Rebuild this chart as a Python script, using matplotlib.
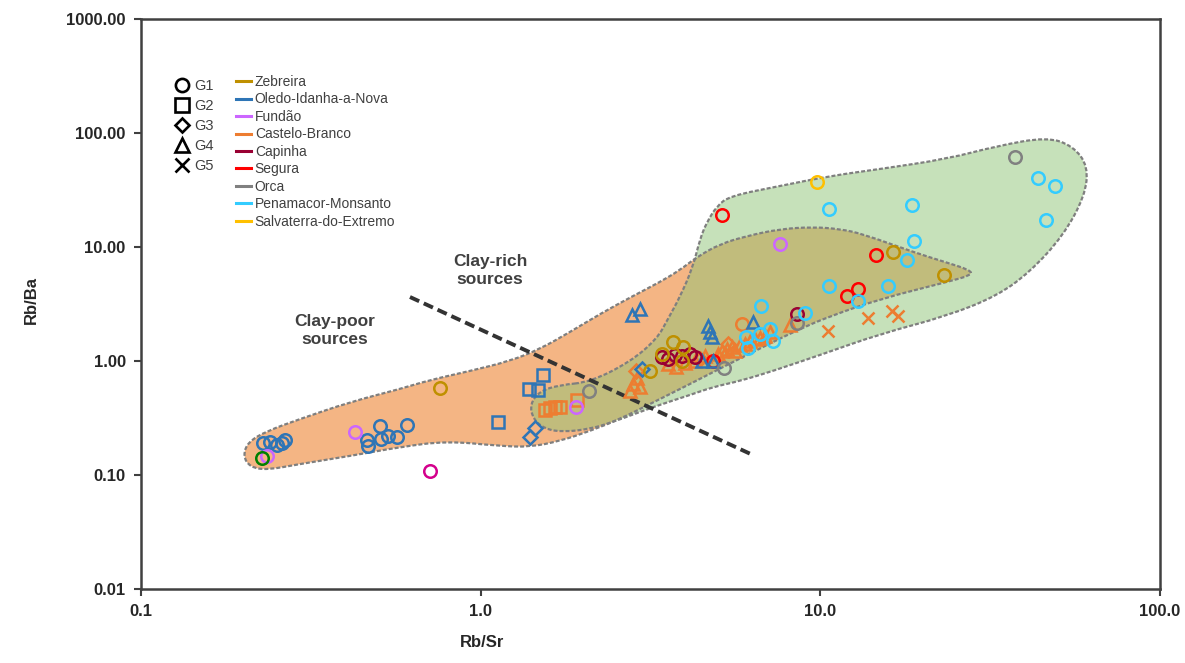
import numpy as np
import matplotlib
matplotlib.use("Agg")
import matplotlib.pyplot as plt
from matplotlib.path import Path
from matplotlib.patches import PathPatch
from matplotlib.lines import Line2D

plt.rcParams['font.family'] = ['Liberation Sans', 'DejaVu Sans']

# ---- samples (Rb/Sr, Rb/Ba) ----
zeb_g1_x = [0.759, 3.683, 3.94, 3.418, 3.914, 3.15, 16.36, 23.12]
zeb_g1_y = [0.58, 1.468, 1.327, 1.152, 1.0, 0.817, 9.04, 5.68]

oledo_g1_x = [0.2287, 0.2398, 0.2515, 0.260, 0.2654, 0.4627, 0.4658, 0.5055, 0.509, 0.5335, 0.567, 0.6067]
oledo_g1_y = [0.1908, 0.1948, 0.1833, 0.1908, 0.2028, 0.2028, 0.1797, 0.269, 0.2069, 0.2198, 0.2154, 0.2746]
oledo_g2_x = [1.525, 1.387, 1.475, 1.124]
oledo_g2_y = [0.754, 0.568, 0.5565, 0.2916]
oledo_g3_x = [1.445, 1.397, 2.985]
oledo_g3_y = [0.2584, 0.2154, 0.851]
oledo_g4_x = [2.789, 2.944, 4.668, 4.732, 4.797, 4.482, 4.83, 6.33]
oledo_g4_y = [2.532, 2.858, 2.028, 1.797, 1.624, 1.0, 1.0, 2.198]

fundao_g1_x = [0.235, 0.4266, 1.909, 7.60]
fundao_g1_y = [0.1468, 0.2383, 0.395, 10.62]

castelo_g1_x = [5.877]
castelo_g1_y = [2.111]
castelo_g2_x = [1.546, 1.60, 1.654, 1.712, 1.921]
castelo_g2_y = [0.3716, 0.387, 0.3948, 0.3948, 0.4548]
castelo_g3_x = [2.865, 4.422, 5.346]
castelo_g3_y = [0.817, 1.041, 1.409]
castelo_g4_x = [2.751, 2.807, 2.884, 2.944, 3.559, 3.758, 3.995, 4.275, 4.575, 4.995, 5.131,
                5.31, 5.49, 5.61, 5.80, 6.00, 6.21, 6.42, 6.64, 6.87, 7.11, 8.14]
castelo_g4_y = [0.5455, 0.628, 0.7093, 0.5914, 0.941, 0.886, 0.9604, 1.0, 1.106, 1.152, 1.224,
                1.274, 1.327, 1.224, 1.382, 1.409, 1.497, 1.56, 1.591, 1.657, 1.797, 2.069]
castelo_g5_x = [10.53, 13.8, 16.25, 16.92]
castelo_g5_y = [1.833, 2.384, 2.746, 2.481]

capinha_g1_x = [3.418, 3.559, 3.733, 3.914, 4.132, 4.275, 8.53]
capinha_g1_y = [1.084, 1.041, 1.129, 1.106, 1.152, 1.084, 2.584]

segura_g1_x = [5.131, 14.58, 11.98, 12.9, 4.83]
segura_g1_y = [19.09, 8.51, 3.717, 4.28, 1.0]

orca_g1_x = [2.084, 5.2, 8.53, 37.4]
orca_g1_y = [0.5455, 0.868, 2.154, 61.6]

pena_g1_x = [6.04, 6.12, 6.64, 7.11, 7.25, 6.69, 9.01, 10.6, 12.9, 10.6, 15.8, 17.99, 18.87, 18.61, 46.1, 43.7, 49.0]
pena_g1_y = [1.624, 1.30, 1.725, 1.909, 1.497, 3.037, 2.637, 21.54, 3.36, 4.55, 4.55, 7.69, 11.29, 23.35, 17.25, 40.3, 34.3]

salva_g1_x = [9.77]
salva_g1_y = [37.2]

other_green_x = [0.227]
other_green_y = [0.141]
other_magenta_x = [0.709]
other_magenta_y = [0.1084]

# ---- source fields (outline vertices) ----
poor_x = [0.1997, 0.2065, 0.2349, 0.2938, 0.4124, 0.5786, 0.709, 0.930, 1.22, 1.495, 1.833, 2.245,
          2.807, 3.372, 3.861, 4.332, 5.064, 6.08, 7.60, 9.51, 11.42, 13.35, 18.74, 23.27, 27.57,
          27.94, 23.59, 14.98, 10.53, 8.71, 7.25, 5.17, 4.132, 3.15, 2.571, 2.098, 1.712, 1.397,
          1.14, 0.796, 0.5786, 0.4124, 0.2938, 0.2349, 0.2094]
poor_y = [0.1468, 0.1948, 0.2432, 0.3098, 0.4368, 0.568, 0.681, 0.817, 1.0, 1.274, 1.797, 2.584,
          3.717, 4.93, 6.28, 8.17, 10.62, 12.49, 14.38, 14.98, 14.38, 13.0, 9.04, 7.39, 6.28,
          5.68, 4.93, 3.50, 2.432, 1.909, 1.468, 0.886, 0.628, 0.4195, 0.3098, 0.2432, 0.1987, 0.176,
          0.1797, 0.1987, 0.176, 0.1468, 0.1249, 0.1106, 0.1175]

rich_x = [2.098, 2.751, 3.304, 3.559, 3.861, 4.217, 4.422, 4.636, 4.962, 5.418, 7.60, 10.67, 14.98,
          23.59, 33.1, 46.5, 55.4, 61.4, 60.1, 51.8, 41.4, 33.1, 23.59, 14.98, 10.18, 7.25, 5.80,
          4.83, 4.132, 3.215, 2.453, 2.098, 1.747, 1.546, 1.426, 1.397, 1.495, 1.712]
rich_y = [0.654, 0.98, 1.56, 2.336, 3.642, 6.68, 11.75, 16.57, 22.89, 28.02, 34.28, 41.96, 48.3,
          59.2, 76.9, 92.2, 76.9, 51.3, 28.02, 12.49, 6.035, 3.717, 2.481, 1.725, 1.152, 0.817, 0.668,
          0.5914, 0.503, 0.3948, 0.2916, 0.2533, 0.2383, 0.2533, 0.3098, 0.4195, 0.5455, 0.616]

divide_x = [0.6193, 6.33]
divide_y = [3.642, 0.1497]

regions = ['Zebreira', 'Oledo-Idanha-a-Nova', 'Fundão', 'Castelo-Branco', 'Capinha',
           'Segura', 'Orca', 'Penamacor-Monsanto', 'Salvaterra-do-Extremo']
colors = ['#bf9000', '#2e75b6', '#cc66ff', '#ed7d31', '#990033',
          '#ff0000', '#808080', '#33ccff', '#ffc000']
groups = ['G1', 'G2', 'G3', 'G4', 'G5']
markers = ['o', 's', 'D', '^', 'x']


def smooth_outline(xs, ys):
    # quadratic curve through edge midpoints, done in log space
    lx, ly = np.log10(xs), np.log10(ys)
    mx = (lx + np.roll(lx, -1)) / 2
    my = (ly + np.roll(ly, -1)) / 2
    verts = [(mx[-1], my[-1])]
    codes = [Path.MOVETO]
    for i in range(len(lx)):
        verts += [(lx[i], ly[i]), (mx[i], my[i])]
        codes += [Path.CURVE3, Path.CURVE3]
    return Path(10 ** np.array(verts), codes)


fig = plt.figure(figsize=(11.85, 6.63), dpi=100)
ax = fig.add_axes([141 / 1185, 74 / 663, 1019 / 1185, 570 / 663])
ax.set_xscale('log')
ax.set_yscale('log')
ax.set_xlim(0.1, 100)
ax.set_ylim(0.01, 1000)

poor_path = smooth_outline(poor_x, poor_y)
rich_path = smooth_outline(rich_x, rich_y)
ax.add_patch(PathPatch(poor_path, facecolor='#f4b584', edgecolor='none', zorder=1))
ax.add_patch(PathPatch(rich_path, facecolor='#8fc476', alpha=0.5, edgecolor='none', zorder=1.5))
for p in (poor_path, rich_path):
    ax.add_patch(PathPatch(p, facecolor='none', edgecolor='#7f7f7f', lw=1.6,
                           linestyle=(0, (1.8, 0.9)), zorder=2))

ax.plot(divide_x, divide_y, color='#333333', lw=2.8, linestyle=(0, (2.6, 1.3)), zorder=2.5)

ms = {'o': 9, 's': 9, 'D': 7, '^': 9, 'x': 9}


def pts(x, y, color, marker):
    if marker == 'x':
        ax.plot(x, y, ls='none', marker='x', color=color, ms=ms[marker], mew=1.8, zorder=3)
    else:
        ax.plot(x, y, ls='none', marker=marker, mfc='none', mec=color,
                ms=ms[marker], mew=1.8, zorder=3)


pts(castelo_g4_x, castelo_g4_y, colors[3], '^')
pts(castelo_g3_x, castelo_g3_y, colors[3], 'D')
pts(castelo_g2_x, castelo_g2_y, colors[3], 's')
pts(castelo_g5_x, castelo_g5_y, colors[3], 'x')
pts(castelo_g1_x, castelo_g1_y, colors[3], 'o')
pts(oledo_g1_x, oledo_g1_y, colors[1], 'o')
pts(oledo_g2_x, oledo_g2_y, colors[1], 's')
pts(oledo_g3_x, oledo_g3_y, colors[1], 'D')
pts(segura_g1_x, segura_g1_y, colors[5], 'o')
pts(oledo_g4_x, oledo_g4_y, colors[1], '^')
pts(capinha_g1_x, capinha_g1_y, colors[4], 'o')
pts(zeb_g1_x, zeb_g1_y, colors[0], 'o')
pts(fundao_g1_x, fundao_g1_y, colors[2], 'o')
pts(orca_g1_x, orca_g1_y, colors[6], 'o')
pts(pena_g1_x, pena_g1_y, colors[7], 'o')
pts(salva_g1_x, salva_g1_y, colors[8], 'o')
pts(other_green_x, other_green_y, '#008000', 'o')
pts(other_magenta_x, other_magenta_y, '#d4008c', 'o')

ax.text(0.3725, 1.85, 'Clay-poor\nsources', ha='center', va='center', fontsize=12.5,
        fontweight='bold', color='#404040', linespacing=1.3, zorder=4)
ax.text(1.065, 6.2, 'Clay-rich\nsources', ha='center', va='center', fontsize=12.5,
        fontweight='bold', color='#404040', linespacing=1.3, zorder=4)

# axes styling
for s in ax.spines.values():
    s.set_color('#404040')
    s.set_linewidth(1.8)
ax.set_xticks([0.1, 1, 10, 100])
ax.set_xticklabels(['0.1', '1.0', '10.0', '100.0'])
ax.set_yticks([0.01, 0.1, 1, 10, 100, 1000])
ax.set_yticklabels(['0.01', '0.10', '1.00', '10.00', '100.00', '1000.00'])
ax.minorticks_off()
ax.tick_params(direction='out', length=5, width=1.5, color='#404040', labelsize=12,
               labelcolor='#262626', pad=6)
for lbl in ax.get_xticklabels() + ax.get_yticklabels():
    lbl.set_fontweight('bold')
ax.set_xlabel('Rb/Sr', fontsize=12, fontweight='bold', color='#262626')
ax.set_ylabel('Rb/Ba', fontsize=12, fontweight='bold', color='#262626')
ax.xaxis.set_label_coords((482 - 141) / 1019, (589 - 635) / 570)
ax.yaxis.set_label_coords((39 - 141) / 1019, (589 - 300) / 570)

# legends
g_handles = [Line2D([], [], ls='none', marker=m, mfc='none', mec='black', color='black',
                    ms=(7.5 if m == 'D' else 9.5), mew=1.9) for m in markers]
leg1 = fig.legend(g_handles, groups, loc='upper left', bbox_to_anchor=(175 / 1185, 1 - 79 / 663),
                  frameon=False, fontsize=10.5, handlelength=1.0, handletextpad=0.3,
                  labelspacing=0.42, borderpad=0, borderaxespad=0, labelcolor='#404040')
r_handles = [Line2D([], [], color=c, lw=2.2) for c in colors]
leg2 = fig.legend(r_handles, regions, loc='upper left', bbox_to_anchor=(236 / 1185, 1 - 75 / 663),
                  frameon=False, fontsize=10, handlelength=1.1, handletextpad=0.25,
                  labelspacing=0.25, borderpad=0, borderaxespad=0, labelcolor='#404040')

fig.savefig('out.png', dpi=100)
